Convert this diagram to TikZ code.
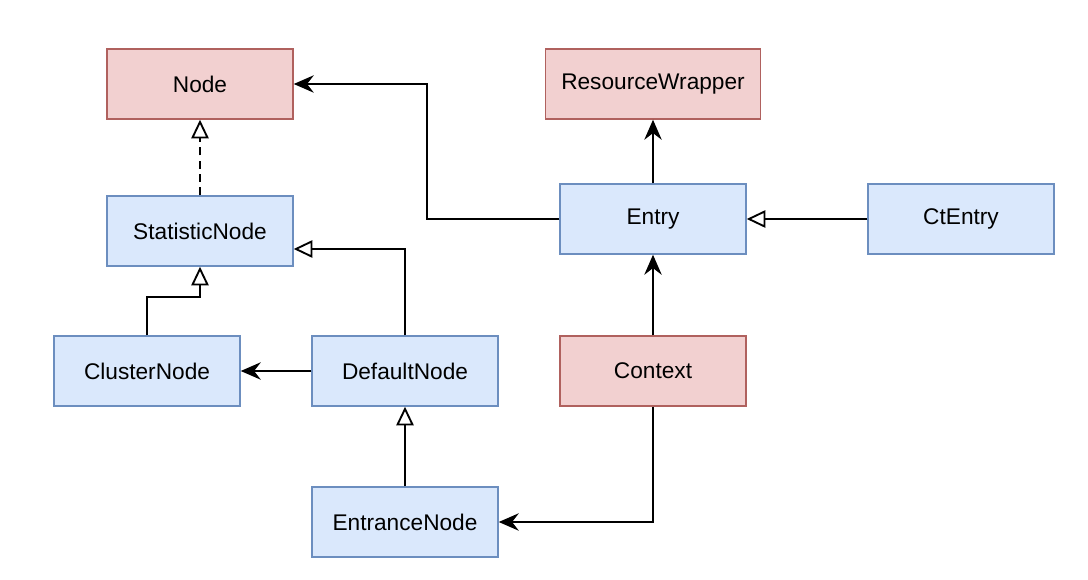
\documentclass[tikz,border=0pt]{standalone}
\usepackage{fontspec}
\setmainfont{Liberation Sans}
\usetikzlibrary{arrows.meta,calc}
\definecolor{bfill}{HTML}{DAE8FC}
\definecolor{bdraw}{HTML}{6C8EBF}
\definecolor{rfill}{HTML}{F2D0D0}
\definecolor{rdraw}{HTML}{B0615E}
\tikzset{
  box/.style={rectangle, minimum width=139.5pt, minimum height=52.5pt, line width=1.1pt, inner sep=0pt, font=\fontsize{17}{20}\selectfont},
  bluebox/.style={box, fill=bfill, draw=bdraw},
  redbox/.style={box, fill=rfill, draw=rdraw},
  assoc/.style={line width=1.7pt, -{Stealth[length=15pt,width=13pt,inset=5pt]}},
  inherit/.style={line width=1.7pt, -{Triangle[open,length=14pt,width=13pt,line width=1.4pt]}},
}
\begin{document}
\begin{tikzpicture}[x=0.75pt,y=-0.75pt]
\useasboundingbox (0,0) rectangle (1088,580);
\node[redbox] (node) at (200,84) {Node};
\node[redbox, minimum width=161pt] (rw) at (653,84) {ResourceWrapper};
\node[bluebox] (stat) at (200,231) {StatisticNode};
\node[bluebox] (entry) at (653,219) {Entry};
\node[bluebox] (ct) at (961,219) {CtEntry};
\node[bluebox] (cluster) at (147,371) {ClusterNode};
\node[bluebox] (default) at (405,371) {DefaultNode};
\node[redbox] (context) at (653,371) {Context};
\node[bluebox] (entrance) at (405,522) {EntranceNode};

\draw[inherit, dash pattern=on 6pt off 4pt] (stat.north) -- (node.south);
\draw[assoc] (entry.west) -- ++(-132,0) |- (node.east);
\draw[assoc] (entry.north) -- (rw.south);
\draw[inherit] (ct.west) -- (entry.east);
\draw[assoc] (context.north) -- (entry.south);
\draw[assoc] (context.south) |- (entrance.east);
\draw[inherit] (default.north) |- ($(stat.east)+(0,18)$);
\draw[inherit] (cluster.north) -- ++(0,-38) -| (stat.south);
\draw[assoc] (default.west) -- (cluster.east);
\draw[inherit] (entrance.north) -- (default.south);
\end{tikzpicture}
\end{document}
